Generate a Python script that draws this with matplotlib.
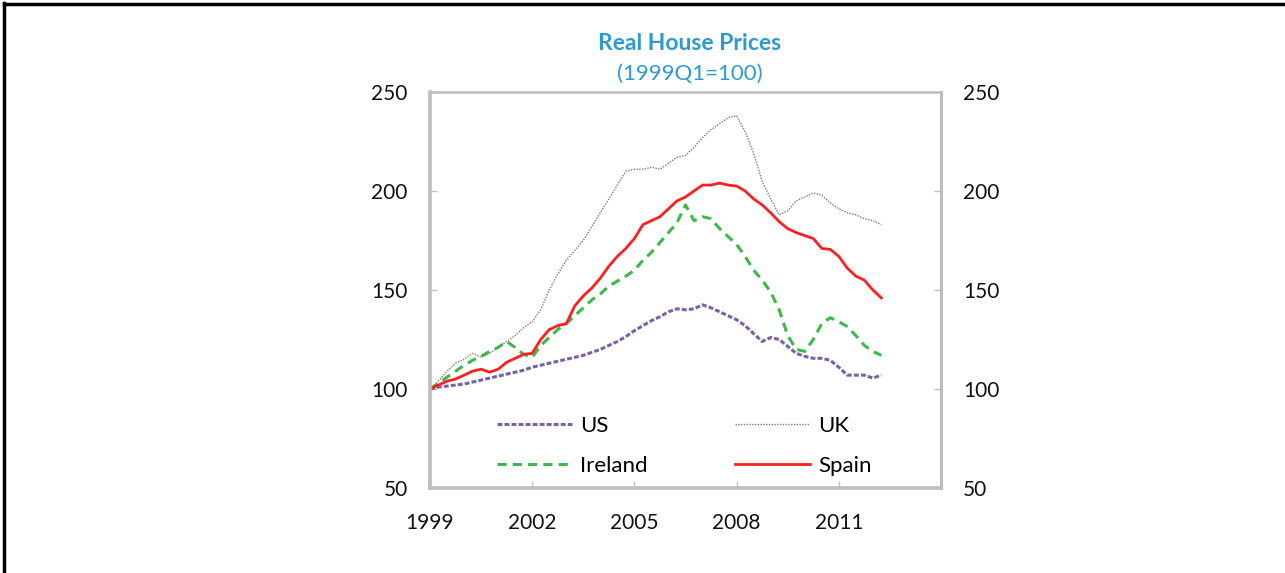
import numpy as np
import matplotlib
matplotlib.use("Agg")
import matplotlib.pyplot as plt
from matplotlib.lines import Line2D

plt.rcParams['font.family'] = ['Lato', 'DejaVu Sans']

# quarterly data 1999Q1 .. 2012Q2
start_year = 1999.0
us = [100, 101, 101.5, 102, 102.5, 103.5, 104.5, 105.5, 106.5, 107.5, 108.5, 109.5,
      111, 112, 113, 114, 115, 116, 117, 118.5, 120, 122, 124, 126.5, 129.5, 132,
      134.5, 136.5, 139, 140.5, 140, 140.5, 142.5, 141, 139, 137, 135, 132, 128, 124,
      126, 125, 121.5, 118, 116.5, 115.5, 115.5, 114.5, 111, 107, 107, 107, 105.5, 107]
uk = [100, 104, 109, 113, 115, 118, 116, 118, 121, 124, 127, 131,
      134, 140, 150, 158, 165, 170, 175, 182, 189, 196, 203, 210, 211, 211,
      212, 211, 214, 217, 218, 222, 227, 231, 234, 237, 238, 230, 219, 205,
      196, 188, 190, 195, 197, 199, 198, 194, 191, 189, 188, 186, 185, 183]
ireland = [100, 103, 106, 109, 112, 114.5, 116.5, 119, 121, 124, 121, 117.5,
           116, 122, 126, 130, 133, 137, 141, 145, 148, 152, 154.5, 157, 160, 165,
           169, 174, 179, 184, 193, 185, 187, 186, 181, 177, 173, 167, 160, 155,
           149, 140, 127, 120, 119, 125, 133, 136, 134, 131.5, 127, 122, 119, 117]
spain = [100, 102, 104, 105, 107, 109, 110, 108.5, 110, 113.5, 115.5, 117.5,
         118, 125, 130, 132, 133, 142, 147, 151, 156, 162, 167, 171, 176, 183,
         185, 187, 191, 195, 197, 200, 203, 203, 204, 203, 202.5, 200, 196, 193,
         189, 184.5, 181, 179, 177.5, 176, 171, 170.5, 167, 161, 157, 155, 150, 146]
x_ticks = [1999, 2002, 2005, 2008, 2011]
y_ticks = [50, 100, 150, 200, 250]

t = start_year + np.arange(len(us)) / 4.0

fig = plt.figure(figsize=(12.85, 5.73), dpi=100)
ax = fig.add_axes([430/1285, 1-488/573, 511/1285, 396/573])

l_us, = ax.plot(t, us, color='#7B62A3', lw=2.2, linestyle=(0, (1.6, 0.7)), label='US')
l_uk, = ax.plot(t, uk, color='#7A7A7A', lw=1.0, linestyle=(0, (1, 1)), label='UK')
l_ie, = ax.plot(t, ireland, color='#3DB84A', lw=2.2, linestyle=(0, (3, 2)), label='Ireland')
l_es, = ax.plot(t, spain, color='#FF1F1F', lw=2.0, label='Spain')

ax.set_xlim(1999, 2014)
ax.set_ylim(50, 250)
ax.set_xticks(x_ticks)
ax.set_yticks(y_ticks)
ax.tick_params(axis='both', direction='in', length=5, width=1, color='#BFBFBF',
               labelsize=15, labelcolor='#111111')
ax.tick_params(axis='y', right=True, labelright=True, pad=16)
ax.tick_params(axis='x', pad=18)

for side, lw in [('left', 2.6), ('bottom', 2.6), ('top', 1.8), ('right', 2.2)]:
    ax.spines[side].set_color('#BDBDBD')
    ax.spines[side].set_linewidth(lw)

leg = ax.legend([l_us, l_ie, l_uk, l_es], ['US', 'Ireland', 'UK', 'Spain'],
                ncol=2, frameon=False, loc='lower left', bbox_to_anchor=(0.131, 0.03),
                borderpad=0, borderaxespad=0,
                fontsize=16, handlelength=3.4, columnspacing=3.9, labelspacing=0.92,
                handletextpad=0.36)

fig.text(0.537, 1-44/573, 'Real House Prices', ha='center', va='center',
         fontsize=16.5, fontweight='bold', color='#2E9AD0')
fig.text(0.537, 1-74/573, '(1999Q1=100)', ha='center', va='center',
         fontsize=16, color='#2E9AD0')

# outer frame lines (top and left)
fig.add_artist(Line2D([0.003, 1.0], [1-4/573, 1-4/573], transform=fig.transFigure,
                      color='black', lw=2.5))
fig.add_artist(Line2D([4/1285, 4/1285], [0, 1-3/573], transform=fig.transFigure,
                      color='black', lw=2.5))

fig.savefig('out.png', dpi=100)
